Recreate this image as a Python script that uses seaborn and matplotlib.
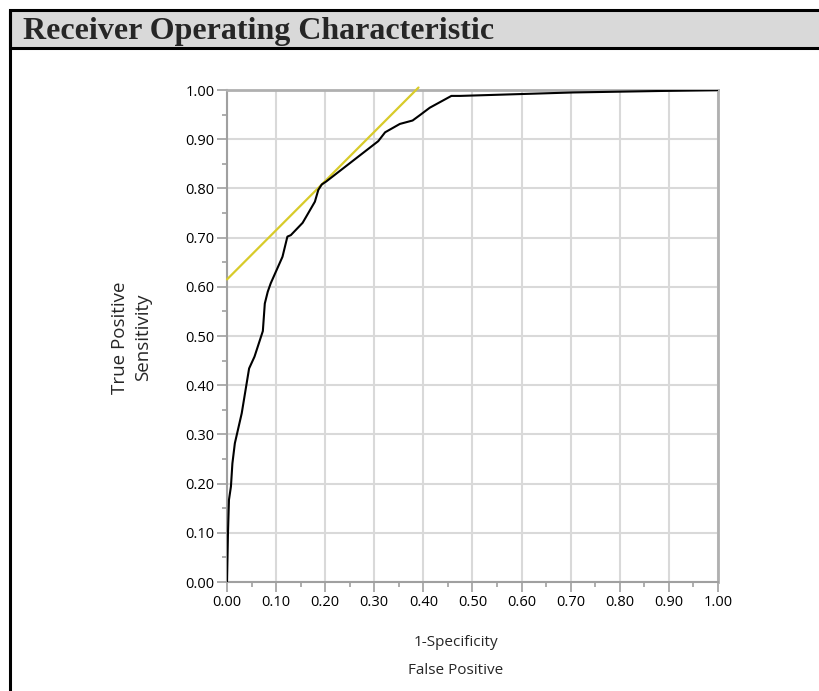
import matplotlib
matplotlib.use("Agg")
import matplotlib.pyplot as plt
from matplotlib.patches import Rectangle
from matplotlib.lines import Line2D
from matplotlib.ticker import MultipleLocator, FormatStrFormatter
import seaborn as sns
import pandas as pd

# ---- data ----
fpr = [0.0, 0.002, 0.004, 0.008, 0.011, 0.016, 0.030, 0.045, 0.056, 0.073, 0.077,
       0.083, 0.089, 0.101, 0.113, 0.123, 0.130, 0.154, 0.161, 0.179, 0.186, 0.193,
       0.202, 0.308, 0.322, 0.352, 0.378, 0.393, 0.413, 0.457, 0.475, 0.705, 1.0]
tpr = [0.0, 0.100, 0.167, 0.194, 0.241, 0.282, 0.343, 0.434, 0.458, 0.510, 0.566,
       0.590, 0.607, 0.634, 0.661, 0.702, 0.705, 0.730, 0.742, 0.773, 0.797, 0.808,
       0.814, 0.896, 0.914, 0.931, 0.938, 0.949, 0.964, 0.988, 0.988, 0.995, 1.0]
tangent_x = [0.0, 0.39]
tangent_y = [0.615, 1.005]

title = "Receiver Operating Characteristic"
ylabel_lines = ["True Positive", "Sensitivity"]
xlabel_lines = ["1-Specificity", "False Positive"]
ticks = [round(i * 0.1, 1) for i in range(11)]

sns.set_style("white")
plt.rcParams["font.family"] = ["Open Sans", "DejaVu Sans"]

W, H = 820, 691
fig = plt.figure(figsize=(W / 100, H / 100), dpi=100)
ax = fig.add_axes([227 / W, 1 - 582 / H, (718 - 227) / W, (582 - 90) / H])

roc = pd.DataFrame({"fpr": fpr, "tpr": tpr})
tan = pd.DataFrame({"x": tangent_x, "y": tangent_y})

ax.grid(True, color="#d9d9d9", lw=1.5, zorder=0)
ax.set_axisbelow(True)
sns.lineplot(data=tan, x="x", y="y", ax=ax, color="#d8cb2a", lw=1.6,
             sort=False, estimator=None, clip_on=False, zorder=3)
sns.lineplot(data=roc, x="fpr", y="tpr", ax=ax, color="black", lw=1.5,
             sort=False, estimator=None, zorder=4)

ax.set_xlim(0, 1)
ax.set_ylim(0, 1)
ax.set_xticks(ticks)
ax.set_yticks(ticks)
ax.xaxis.set_minor_locator(MultipleLocator(0.05))
ax.yaxis.set_minor_locator(MultipleLocator(0.05))
ax.xaxis.set_major_formatter(FormatStrFormatter("%.2f"))
ax.yaxis.set_major_formatter(FormatStrFormatter("%.2f"))
ax.tick_params(which="major", direction="out", length=7, width=1.2,
               color="#a0a0a0", labelsize=10.5, labelcolor="black", pad=2,
               bottom=True, left=True)
ax.tick_params(which="minor", direction="out", length=3.6, width=1.2,
               color="#a0a0a0", bottom=True, left=True)
for s in ["left", "bottom"]:
    ax.spines[s].set_color("#a0a0a0")
    ax.spines[s].set_linewidth(1.5)
for s in ["top", "right"]:
    ax.spines[s].set_color("#b0b0b0")
    ax.spines[s].set_linewidth(2.0)
ax.set_xlabel("")
ax.set_ylabel("")

# axis labels
fig.text(120 / W, 1 - 338 / H, ylabel_lines[0], rotation=90, ha="center",
         va="center", fontsize=13.5)
fig.text(143 / W, 1 - 337 / H, ylabel_lines[1], rotation=90, ha="center",
         va="center", fontsize=13.5)
fig.text(456 / W, 1 - 642 / H, xlabel_lines[0], ha="center", va="center",
         fontsize=11)
fig.text(456 / W, 1 - 670 / H, xlabel_lines[1], ha="center", va="center",
         fontsize=11)

# title bar and frame
fig.add_artist(Rectangle((10 / W, 1 - 48 / H), 1.0, 38 / H,
                         transform=fig.transFigure, facecolor="#d9d9d9",
                         edgecolor="black", lw=2.2, zorder=0))
fig.add_artist(Line2D([10 / W, 10 / W], [0, 1 - 10 / H], transform=fig.transFigure,
                      color="black", lw=2.2))
fig.text(23 / W, 1 - 39 / H, title, ha="left", va="baseline",
         family=["Liberation Serif"], fontweight="bold", fontsize=23)

fig.savefig("out.png", dpi=100)
